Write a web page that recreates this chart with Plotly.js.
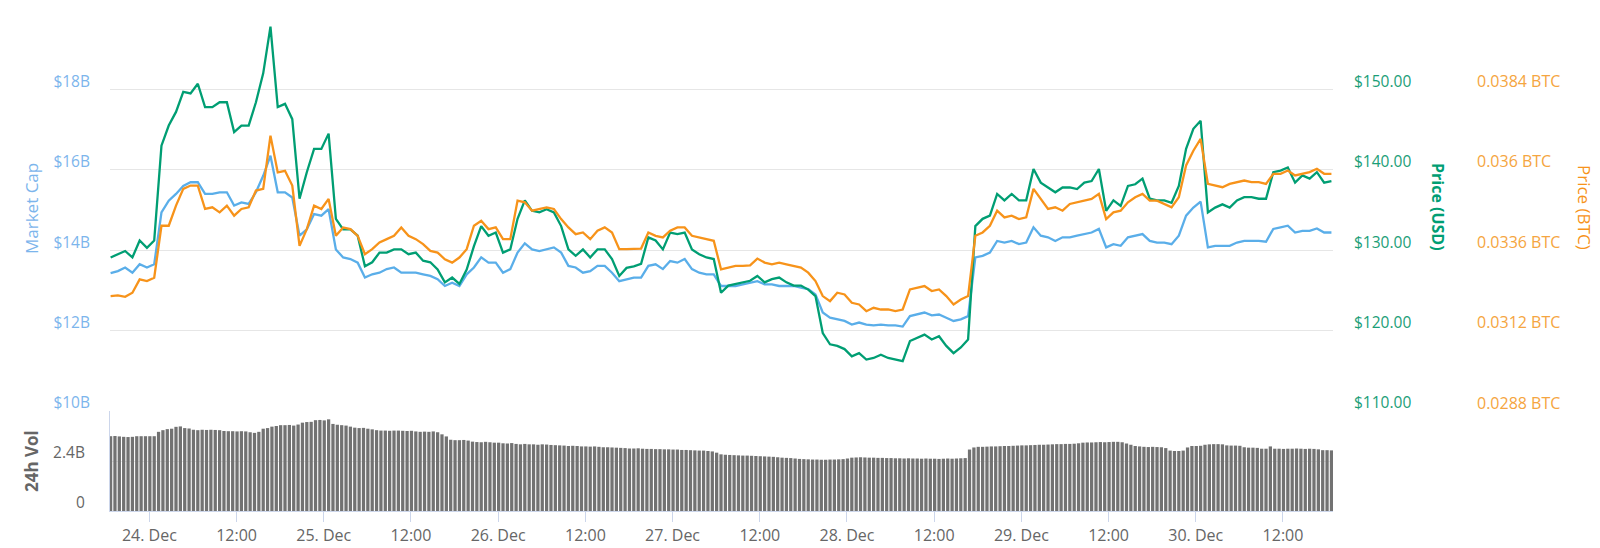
<!DOCTYPE html>
<html>
<head>
<meta charset="utf-8">
<script src="https://cdn.plot.ly/plotly-3.0.1.min.js"></script>
<style>
  html, body { margin: 0; padding: 0; background: #ffffff; }
  #chart { width: 1600px; height: 548px; }
</style>
</head>
<body>
<div id="chart"></div>
<script>
// ---- Data ----
// Line series: hourly samples starting 23 Dec 18:40
const seriesStart = Date.UTC(2018, 11, 23, 18, 40);
const lineStepMinutes = 60;
const volStepMinutes = 36;

const marketCapB = [
  13.43,13.48,13.57,13.44,13.65,13.57,13.65,14.94,15.23,15.40,
  15.60,15.69,15.69,15.40,15.40,15.44,15.44,15.11,15.19,15.15,
  15.44,15.85,16.35,15.44,15.44,15.31,14.36,14.52,14.90,14.86,
  15.02,14.02,13.82,13.78,13.69,13.32,13.40,13.44,13.53,13.57,13.44,13.44,
  13.44,13.40,13.36,13.28,13.11,13.19,13.11,13.40,13.57,13.82,
  13.69,13.69,13.44,13.53,13.94,14.17,14.02,13.98,14.02,14.07,
  13.94,13.61,13.57,13.44,13.48,13.61,13.61,13.44,13.23,13.28,
  13.32,13.32,13.61,13.65,13.53,13.73,13.69,13.78,13.53,13.44,13.40,13.40,
  13.11,13.11,13.11,13.15,13.19,13.23,13.15,13.15,13.11,13.11,
  13.11,13.07,13.03,12.90,12.45,12.32,12.28,12.24,12.15,12.20,
  12.15,12.13,12.15,12.13,12.13,12.10,12.36,12.40,12.45,12.38,
  12.40,12.32,12.24,12.28,12.36,13.82,13.86,13.94,14.23,14.19,14.23,14.15,
  14.19,14.57,14.36,14.32,14.23,14.32,14.32,14.36,14.40,14.44,
  14.53,14.07,14.15,14.11,14.32,14.36,14.40,14.23,14.19,14.19,
  14.15,14.36,14.86,15.06,15.21,14.07,14.11,14.11,14.11,14.19,
  14.23,14.23,14.23,14.21,14.53,14.57,14.61,14.44,14.48,14.48,14.54,14.44,14.44
];

const priceUSD = [
  129.1,129.5,129.9,129.1,131.2,130.3,131.2,143.0,145.5,147.2,
  149.7,149.5,150.7,147.8,147.8,148.4,148.4,144.7,145.5,145.5,
  148.4,152.0,157.8,147.8,148.2,146.3,136.4,139.7,142.6,142.6,
  144.5,133.9,132.6,132.6,131.8,128.0,128.5,129.7,129.7,130.1,130.1,129.5,
  129.7,128.7,128.5,127.6,126.0,126.6,125.8,127.6,130.5,133.0,
  131.8,132.2,129.7,130.1,133.9,136.2,134.9,134.7,135.1,134.7,
  133.0,130.1,129.3,130.1,129.1,130.1,130.1,128.9,126.8,127.8,
  128.0,128.3,131.6,131.2,130.1,132.2,132.0,132.2,130.1,129.5,129.1,128.9,
  124.7,125.6,125.8,126.0,126.2,126.8,126.0,126.4,126.6,126.0,
  125.6,125.6,125.1,124.3,119.7,118.3,118.1,117.7,116.8,117.2,
  116.4,116.6,117.0,116.6,116.4,116.2,118.7,119.1,119.5,118.9,
  119.3,118.1,117.2,117.9,118.9,133.0,133.9,134.3,137.0,136.2,137.0,136.2,
  136.2,140.1,138.4,137.8,137.2,137.8,137.8,137.6,138.4,138.6,
  140.1,134.9,136.2,135.5,138.0,138.2,138.9,136.4,136.2,136.2,
  135.9,138.0,142.6,145.1,146.1,134.7,135.3,135.7,135.3,136.2,
  136.6,136.6,136.4,136.4,139.7,139.9,140.3,138.4,139.3,138.9,139.7,138.4,138.6
];

const priceBTC = [
  0.03223,0.03225,0.03221,0.03233,0.03273,0.03268,0.03278,0.03433,0.03433,0.03493,
  0.03543,0.03553,0.03553,0.03483,0.03488,0.03473,0.03493,0.03463,0.03483,0.03488,
  0.03538,0.03543,0.03702,0.03592,0.03597,0.03553,0.03373,0.03423,0.03493,0.03483,
  0.03513,0.03403,0.03428,0.03423,0.03403,0.03348,0.03363,0.03383,0.03393,0.03403,0.03428,0.03403,
  0.03393,0.03378,0.03358,0.03353,0.03333,0.03323,0.03338,0.03363,0.03433,0.03448,
  0.03423,0.03428,0.03393,0.03393,0.03508,0.03503,0.03478,0.03483,0.03488,0.03483,
  0.03453,0.03428,0.03408,0.03413,0.03393,0.03418,0.03428,0.03413,0.03363,0.03363,
  0.03365,0.03365,0.03413,0.03403,0.03398,0.03418,0.03428,0.03428,0.03403,0.03398,0.03393,0.03388,
  0.03303,0.03308,0.03313,0.03313,0.03315,0.03335,0.03323,0.03318,0.03323,0.03318,
  0.03313,0.03308,0.03293,0.03268,0.03223,0.03208,0.03233,0.03228,0.03203,0.03198,
  0.03178,0.03188,0.03183,0.03183,0.03178,0.03183,0.03243,0.03248,0.03253,0.03238,
  0.03243,0.03223,0.03198,0.03213,0.03223,0.03403,0.03413,0.03433,0.03478,0.03458,0.03463,0.03453,
  0.03458,0.03543,0.03513,0.03483,0.03488,0.03478,0.03498,0.03503,0.03508,0.03513,
  0.03528,0.03453,0.03473,0.03478,0.03503,0.03518,0.03528,0.03508,0.03508,0.03498,
  0.03488,0.03518,0.03613,0.03657,0.03692,0.03558,0.03553,0.03548,0.03558,0.03563,
  0.03568,0.03563,0.03563,0.03558,0.03588,0.03588,0.03598,0.03583,0.03588,0.03593,0.03603,0.03588,0.03588
];

// 24h volume bars (billions USD), one bar every 36 minutes
const volumeB = [
  3.59,3.60,3.58,3.56,3.55,3.56,3.59,3.59,3.59,3.59,3.59,
  3.80,3.88, 3.93,3.95, 4.04,4.06, 3.98,3.96,
  3.90,3.88,3.90,3.89,3.90,3.89,3.88,
  3.84,3.83,3.83,3.82,3.83,3.82,
  3.78,3.75,3.80,
  3.95,3.98,4.05,4.08,
  4.12,4.12,4.13,4.10,4.15,
  4.24,4.27,4.28,
  4.36,4.37,4.35,4.40,
  4.18,4.14,4.12,4.10,4.05,
  4.00,3.98,3.99,3.95,3.92,
  3.88,3.86,3.86,3.85,3.86,3.86,3.85,3.84,3.85,
  3.82,3.80,3.81,3.80,3.82,3.78,
  3.68,3.58,
  3.42,3.40,3.40,3.41,3.38,
  3.33,3.31,3.30,3.32,3.30,3.28,3.28,
  3.25,3.24,3.26,3.22,3.20,3.22,3.20,3.20,3.18,3.20,3.19,3.17,3.16,3.15,
  3.14,3.12,3.13,3.12,3.10,3.10,3.09,3.10,3.08,3.06,3.06,3.05,3.04,3.03,
  3.02,3.00,3.00,3.01,2.99,2.98,2.98,2.97,2.97,2.96,2.96,2.95,
  2.95,2.93,2.93,2.92,2.91,2.90,2.90,2.88,2.86,2.80,
  2.72,2.70,2.69,2.68,2.67,2.66,2.66,2.65,2.64,2.63,
  2.62,2.61,2.60,2.58,2.56,2.55,2.54,2.52,2.50,2.49,2.48,2.47,2.47,2.46,2.46,2.47,2.47,2.48,2.49,2.52,
  2.56,2.57,2.58,2.57,2.56,2.56,2.55,2.55,2.54,2.54,2.53,2.53,2.52,2.53,2.52,2.52,2.51,2.52,2.51,2.51,2.50,2.51,2.52,2.51,2.52,2.53,2.54,
  2.95,3.05,3.08,3.08,3.09,3.10,3.10,3.11,3.12,3.12,3.13,3.14,
  3.15,3.15,3.16,3.17,3.18,3.18,3.19,3.20,3.21,3.21,3.22,3.22,3.23,3.25,
  3.28,3.29,3.29,3.30,3.31,3.30,3.31,3.32,3.32,3.30,3.24,3.18,3.12,3.10,3.08,
  3.07,3.08,3.07,3.06,3.02,
  2.90,2.88,2.88,2.90,
  3.05,3.12,3.12,3.13,
  3.18,3.20,3.21,3.21,3.20,
  3.15,3.14,3.14,3.13,
  3.06,3.04,3.04,3.03,
  2.99,2.99,3.10,2.99,
  2.99,2.98,2.99,2.99,3.00,2.99,2.98,2.99,2.98,2.96,
  2.92,2.92,2.91
];

// Axis tick labels
const xTickDates = ['2018-12-24 00:00','2018-12-24 12:00','2018-12-25 00:00','2018-12-25 12:00',
  '2018-12-26 00:00','2018-12-26 12:00','2018-12-27 00:00','2018-12-27 12:00',
  '2018-12-28 00:00','2018-12-28 12:00','2018-12-29 00:00','2018-12-29 12:00',
  '2018-12-30 00:00','2018-12-30 12:00'];
const xTickLabels = ['24. Dec','12:00','25. Dec','12:00','26. Dec','12:00','27. Dec','12:00',
  '28. Dec','12:00','29. Dec','12:00','30. Dec','12:00'];
const mcTickVals = [10,12,14,16,18,20];
const mcTickLabels = ['$10B','$12B','$14B','$16B','$18B',''];
const usdTickVals = [110,120,130,140,150];
const usdTickLabels = ['$110.00','$120.00','$130.00','$140.00','$150.00'];
const btcTickVals = [0.0288,0.0312,0.0336,0.036,0.0384];
const btcTickLabels = ['0.0288 BTC','0.0312 BTC','0.0336 BTC','0.036 BTC','0.0384 BTC'];
const volTickVals = [0,2.4];
const volTickLabels = ['0','2.4B'];

// ---- Build ----
function times(n, stepMin) {
  const out = [];
  for (let i = 0; i < n; i++) out.push(seriesStart + i * stepMin * 60000);
  return out;
}
const tLine = times(priceUSD.length, lineStepMinutes);
const tVol = times(volumeB.length, volStepMinutes);

const C_MC = '#5aaee9', C_USD = '#009e73', C_BTC = '#f7931a';
const FONT = 'Open Sans, DejaVu Sans, sans-serif';

const traces = [
  { type:'scatter', mode:'lines', x:tLine, y:marketCapB, xaxis:'x', yaxis:'y',
    line:{color:C_MC, width:2.3}, name:'Market Cap' },
  { type:'scatter', mode:'lines', x:tLine, y:priceUSD, xaxis:'x', yaxis:'y2',
    line:{color:C_USD, width:2.3}, name:'Price (USD)' },
  { type:'scatter', mode:'lines', x:tLine, y:priceBTC, xaxis:'x', yaxis:'y3',
    line:{color:C_BTC, width:2.3}, name:'Price (BTC)' },
  { type:'bar', x:tVol, y:volumeB, xaxis:'x', yaxis:'y4',
    marker:{color:'#727272', line:{width:0}}, name:'24h Vol' }
];

const plotL = 110, plotW = 1480, plotB = 37, plotH = 502;
const px = v => (v - plotL) / plotW;            // pixel x -> paper x
const py = v => (548 - plotB - v) / plotH;      // pixel y -> paper y
const mainBottom = py(411);

const layout = {
  width:1600, height:548,
  margin:{l:plotL, r:10, t:9, b:plotB, pad:0},
  paper_bgcolor:'#ffffff', plot_bgcolor:'#ffffff',
  showlegend:false, bargap:0.25,
  font:{family:FONT, size:13, color:'#666666'},
  xaxis:{
    type:'date', domain:[0, px(1333)], anchor:'y4',
    range:[seriesStart - 5*60000, seriesStart + 168*3600000 + 13*60000],
    tickvals:xTickDates, ticktext:xTickLabels,
    ticks:'outside', ticklen:10, tickcolor:'#ccd6eb', tickwidth:1,
    showline:true, linecolor:'#ccd6eb', linewidth:1,
    showgrid:false, zeroline:false,
    tickfont:{family:FONT, size:16, color:'#666666'}
  },
  yaxis:{
    domain:[mainBottom, 1], anchor:'x', side:'left', range:[10,20],
    tickvals:mcTickVals, ticktext:mcTickLabels,
    showgrid:true, gridcolor:'#e6e6e6', gridwidth:1, zeroline:false, showline:false,
    ticks:'', ticklabelshift:-8, ticklabelstandoff:19,
    tickfont:{family:FONT, size:15.5, color:'#7cb5ec'}
  },
  yaxis2:{
    overlaying:'y', anchor:'x', side:'right', range:[110,160],
    tickvals:usdTickVals, ticktext:usdTickLabels,
    showgrid:false, zeroline:false, showline:false,
    ticks:'', ticklabelshift:-8, ticklabelstandoff:20,
    tickfont:{family:FONT, size:15.5, color:'#1a9e77'}
  },
  yaxis3:{
    overlaying:'y', anchor:'free', side:'right', position:px(1458), range:[0.0288,0.0408],
    tickvals:btcTickVals, ticktext:btcTickLabels,
    showgrid:false, zeroline:false, showline:false,
    ticks:'', ticklabelshift:-8, ticklabelstandoff:18,
    tickfont:{family:FONT, size:16, color:'#f5a540'}
  },
  yaxis4:{
    domain:[0, mainBottom], anchor:'x', side:'left', range:[0,4.8],
    tickvals:volTickVals, ticktext:volTickLabels,
    showgrid:true, gridcolor:'#e6e6e6', gridwidth:1, zeroline:false,
    showline:true, linecolor:'#ccd6eb', linewidth:1,
    ticks:'', ticklabelshift:-8, ticklabelstandoff:21,
    tickfont:{family:FONT, size:15.5, color:'#666666'}
  },
  annotations:[
    { text:'Market Cap', xref:'paper', yref:'paper', x:px(31), y:py(209),
      xanchor:'center', yanchor:'middle', textangle:-90, showarrow:false,
      font:{family:FONT, size:17, color:'#7cb5ec'} },
    { text:'<b>24h Vol</b>', xref:'paper', yref:'paper', x:px(31), y:py(461),
      xanchor:'center', yanchor:'middle', textangle:-90, showarrow:false,
      font:{family:FONT, size:17, color:'#666666'} },
    { text:'<b>Price (USD)</b>', xref:'paper', yref:'paper', x:px(1438), y:py(207),
      xanchor:'center', yanchor:'middle', textangle:90, showarrow:false,
      font:{family:FONT, size:16, color:C_USD} },
    { text:'Price (BTC)', xref:'paper', yref:'paper', x:px(1585), y:py(207),
      xanchor:'center', yanchor:'middle', textangle:90, showarrow:false,
      font:{family:FONT, size:17, color:C_BTC} }
  ]
};

Plotly.newPlot('chart', traces, layout, {staticPlot:true, displayModeBar:false});
</script>
</body>
</html>
